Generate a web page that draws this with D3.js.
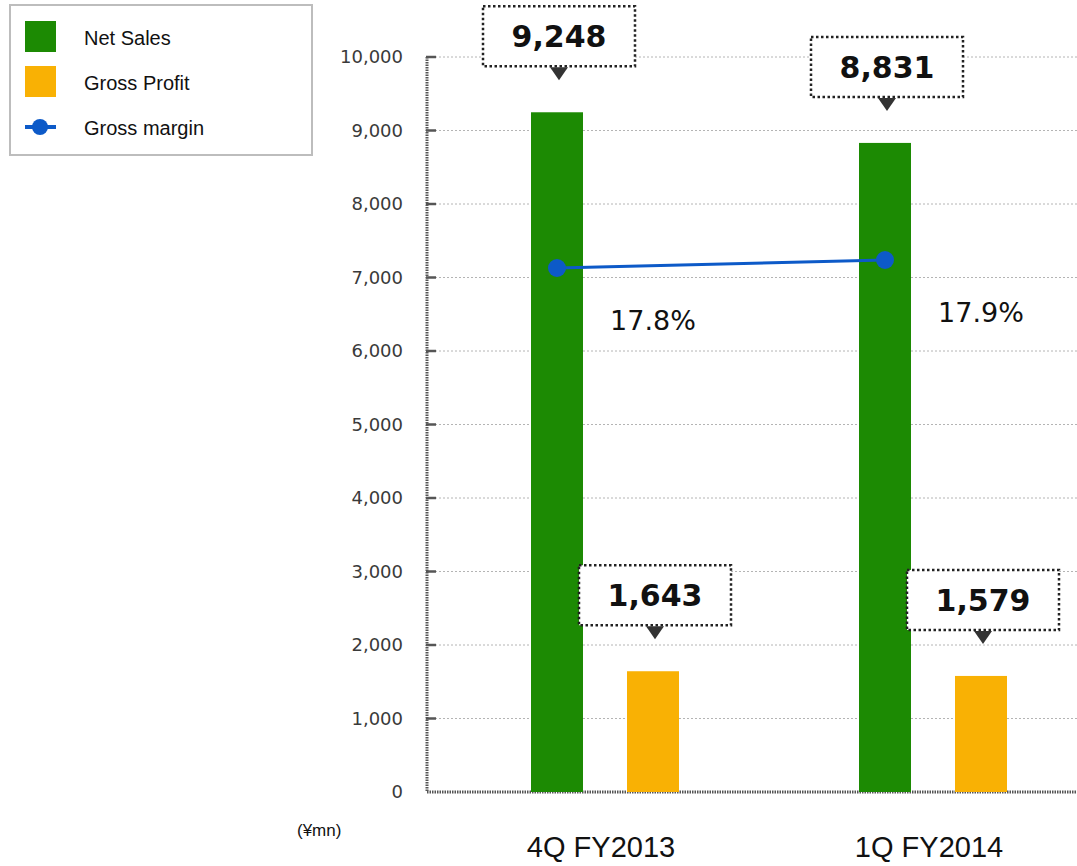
<!DOCTYPE html>
<html>
<head>
<meta charset="utf-8">
<script src="https://cdn.jsdelivr.net/npm/d3@7"></script>
<style>
  body { margin: 0; background: #fff; }
  svg { display: block; }
</style>
</head>
<body>
<svg id="chart" width="1077" height="866"></svg>
<script>
const categories = ["4Q FY2013", "1Q FY2014"];
const series = ["Net Sales", "Gross Profit"];
const netSales = [9248, 8831];
const grossProfit = [1643, 1579];
const grossMargin = [17.8, 17.9];
const yTicks = [0, 1000, 2000, 3000, 4000, 5000, 6000, 7000, 8000, 9000, 10000];

const colors = {"Net Sales": "#1c8a03", "Gross Profit": "#f9b104", "Gross margin": "#0d5ac8"};

const svg = d3.select("#chart");
const plotLeft = 427, plotRight = 1077, plotTop = 57, plotBottom = 792;

const y = d3.scaleLinear().domain([0, 10000]).range([plotBottom, plotTop]);
// hidden secondary scale for the margin line
const yMargin = d3.scaleLinear().domain([17, 18]).range([332, 252]);
const x0 = d3.scaleBand().domain(categories).range([441, 1097]);
const x1 = d3.scaleBand().domain(series).range([90, 238]).paddingInner(44 / 96).paddingOuter(0);

// gridlines
svg.append("g")
    .selectAll("line")
    .data(yTicks.filter(d => d > 0))
    .enter()
    .append("line")
    .attr("x1", plotLeft)
    .attr("x2", plotRight)
    .attr("y1", d => y(d))
    .attr("y2", d => y(d))
    .attr("stroke", "#b4b4b4")
    .attr("stroke-width", 1)
    .attr("stroke-dasharray", "2,2");

// y axis
const yAxis = svg.append("g")
    .attr("transform", `translate(${plotLeft},0)`)
    .call(d3.axisLeft(y).tickValues(yTicks).tickFormat(d3.format(",")).tickSize(0).tickPadding(24));
yAxis.select(".domain").remove();
yAxis.selectAll("text")
    .attr("fill", "#3a3a3a")
    .style("font-family", "DejaVu Sans, sans-serif")
    .style("font-size", "18px");

svg.append("line")
    .attr("x1", plotLeft).attr("x2", plotLeft)
    .attr("y1", y(10000)).attr("y2", plotBottom)
    .attr("stroke", "#555").attr("stroke-width", 3)
    .attr("stroke-dasharray", "1.5,1");
svg.append("line")
    .attr("x1", plotLeft).attr("x2", plotRight)
    .attr("y1", plotBottom).attr("y2", plotBottom)
    .attr("stroke", "#555").attr("stroke-width", 3)
    .attr("stroke-dasharray", "1.5,1");
svg.append("g")
    .selectAll("line")
    .data(yTicks.filter(d => d > 0))
    .enter()
    .append("line")
    .attr("x1", plotLeft - 1).attr("x2", plotLeft + 9)
    .attr("y1", d => y(d)).attr("y2", d => y(d))
    .attr("stroke", "#555").attr("stroke-width", 2.5);

// bars
const rows = categories.map((c, i) => ({cat: c, values: [
    {key: "Net Sales", value: netSales[i]},
    {key: "Gross Profit", value: grossProfit[i]}
]}));

const groups = svg.append("g")
    .selectAll("g")
    .data(rows)
    .enter()
    .append("g")
    .attr("transform", d => `translate(${x0(d.cat)},0)`);

groups.selectAll("rect")
    .data(d => d.values)
    .enter()
    .append("rect")
    .attr("x", d => x1(d.key))
    .attr("width", x1.bandwidth())
    .attr("y", d => y(d.value))
    .attr("height", d => plotBottom - y(d.value))
    .attr("fill", d => colors[d.key]);

// callouts
const boxW = 152, boxH = 60;
groups.selectAll("g.callout")
    .data(d => d.values)
    .enter()
    .append("g")
    .attr("class", "callout")
    .each(function(d) {
        const g = d3.select(this);
        const cx = x1(d.key) + x1.bandwidth() / 2 + 2;
        const bb = y(d.value) - 46;
        g.append("rect")
            .attr("x", cx - boxW / 2).attr("y", bb - boxH)
            .attr("width", boxW).attr("height", boxH)
            .attr("fill", "#fff")
            .attr("stroke", "#222").attr("stroke-width", 2.5)
            .attr("stroke-dasharray", "2.5,2.5");
        g.append("path")
            .attr("d", `M${cx - 9},${bb + 1}L${cx + 9},${bb + 1}L${cx},${bb + 14}Z`)
            .attr("fill", "#333");
        g.append("text")
            .attr("x", cx).attr("y", bb - 19)
            .attr("text-anchor", "middle")
            .style("font-family", "DejaVu Sans, sans-serif")
            .style("font-weight", "bold")
            .style("font-size", "30px")
            .attr("fill", "#111")
            .text(d3.format(",")(d.value));
    });

// margin line
const pts = categories.map((c, i) => ({
    x: x0(c) + x1("Net Sales") + x1.bandwidth() / 2,
    y: yMargin(grossMargin[i]),
    v: grossMargin[i]
}));

svg.append("path")
    .datum(pts)
    .attr("d", d3.line().x(d => d.x).y(d => d.y))
    .attr("fill", "none")
    .attr("stroke", colors["Gross margin"])
    .attr("stroke-width", 3);

svg.append("g")
    .selectAll("circle")
    .data(pts)
    .enter()
    .append("circle")
    .attr("cx", d => d.x).attr("cy", d => d.y)
    .attr("r", 9)
    .attr("fill", colors["Gross margin"]);

svg.append("g")
    .selectAll("text")
    .data(pts)
    .enter()
    .append("text")
    .attr("x", d => d.x + 96)
    .attr("y", d => d.y + 62)
    .attr("text-anchor", "middle")
    .style("font-family", "DejaVu Sans, sans-serif")
    .style("font-size", "27px")
    .attr("fill", "#111")
    .text(d => d.v.toFixed(1) + "%");

// category labels
svg.append("g")
    .selectAll("text")
    .data(categories)
    .enter()
    .append("text")
    .attr("x", d => x0(d) + x0.bandwidth() / 2 - 4)
    .attr("y", 857)
    .attr("text-anchor", "middle")
    .style("font-family", "Liberation Sans, Arial, sans-serif")
    .style("font-size", "29px")
    .attr("fill", "#111")
    .text(d => d);

svg.append("text")
    .attr("x", 297).attr("y", 836)
    .style("font-family", "Liberation Sans, Arial, sans-serif")
    .style("font-size", "17px")
    .attr("fill", "#111")
    .text("(¥mn)");

// legend
const legend = svg.append("g");
legend.append("rect")
    .attr("x", 10).attr("y", 5).attr("width", 302).attr("height", 150)
    .attr("fill", "#fff").attr("stroke", "#bdbdbd").attr("stroke-width", 2);

const legendItems = ["Net Sales", "Gross Profit", "Gross margin"];
const li = legend.selectAll("g.item")
    .data(legendItems)
    .enter()
    .append("g")
    .attr("class", "item")
    .attr("transform", (d, i) => `translate(0,${37 + i * 45})`);

li.each(function(d) {
    const g = d3.select(this);
    if (d === "Gross margin") {
        g.append("line").attr("x1", 25).attr("x2", 56).attr("y1", 0).attr("y2", 0)
            .attr("stroke", colors[d]).attr("stroke-width", 4);
        g.append("circle").attr("cx", 40).attr("cy", 0).attr("r", 8).attr("fill", colors[d]);
    } else {
        g.append("rect").attr("x", 25).attr("y", -16).attr("width", 31).attr("height", 31)
            .attr("fill", colors[d]);
    }
});

li.append("text")
    .attr("x", 84).attr("y", 8)
    .style("font-family", "Liberation Sans, Arial, sans-serif")
    .style("font-size", "20px")
    .attr("fill", "#111")
    .text(d => d);
</script>
</body>
</html>
